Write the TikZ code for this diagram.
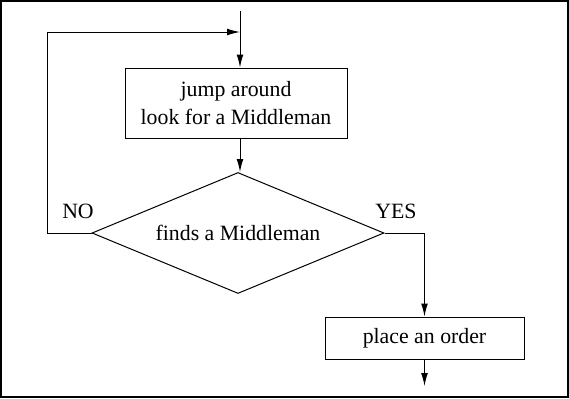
\documentclass[tikz,border=0pt]{standalone}
\usepackage{fontspec}
\setmainfont{Liberation Serif}
\newfontfamily\timesfam{Liberation Serif}
\usetikzlibrary{shapes.geometric,arrows.meta}
\begin{document}
\begin{tikzpicture}[x=0.5pt,y=-0.5pt,
  every node/.style={font=\timesfam\fontsize{10.9}{14}\selectfont},
  box/.style={draw,line width=0.5pt,inner sep=0pt,align=center},
  dia/.style={draw,diamond,line width=0.5pt,inner sep=0pt,aspect=2.4,minimum width=146pt,minimum height=60.5pt},
  arr/.style={line width=0.5pt,-{Latex[length=6.5pt,width=3.4pt]}},
  lbl/.style={inner sep=0pt}]
\useasboundingbox (0,0) rectangle (569,398);
\draw[line width=0.6pt] (1,1) rectangle (568,397);
\node[box,minimum width=111pt,minimum height=35pt] (b1) at (236,103) {jump around\\look for a Middleman};
\node[dia] (d) at (238,233) {finds a Middleman};
\node[box,minimum width=99.5pt,minimum height=21pt] (b2) at (424.5,338) {place an order};
\coordinate (tin) at (240,11);
\coordinate (lc) at (47,32);
\coordinate (bout) at (424.5,386);
\node[lbl] (no) at (78,211) {NO};
\node[lbl] (yes) at (396,211) {YES};
\draw[arr] (tin) -- (tin |- b1.north);
\draw[arr] (d.west) -| (lc) -- (lc -| tin);
\draw[arr] (tin |- b1.south) -- (tin |- d.north);
\draw[arr] (d.east) -| (b2.north);
\draw[arr] (b2.south) -- (bout);
\end{tikzpicture}
\end{document}
